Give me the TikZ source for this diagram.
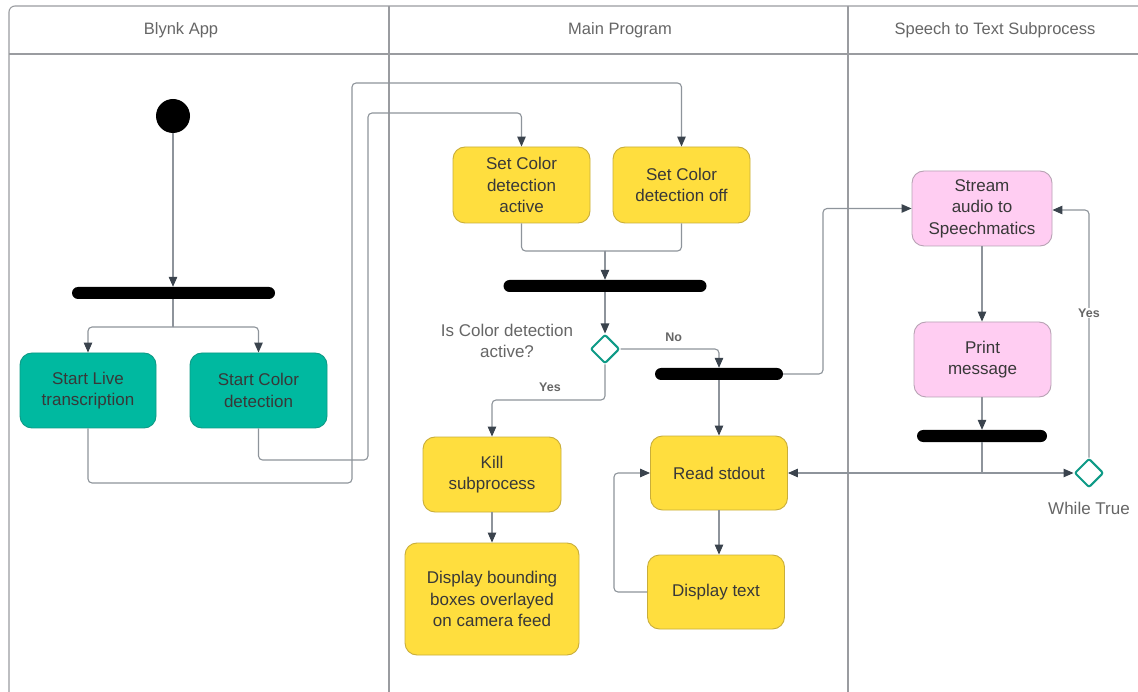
\documentclass[tikz,border=0pt]{standalone}
\usepackage{fontspec}
\setmainfont{Liberation Sans}
\usetikzlibrary{arrows.meta,shapes.geometric}

\definecolor{lanec}{HTML}{9A9CA0}
\definecolor{linec}{HTML}{8E949B}
\definecolor{tipc}{HTML}{3A434D}
\definecolor{tealf}{HTML}{00B9A0}
\definecolor{teald}{HTML}{0E9A86}
\definecolor{yelf}{HTML}{FFDE3E}
\definecolor{yeld}{HTML}{C9AE3A}
\definecolor{pinkf}{HTML}{FFCDF2}
\definecolor{pinkd}{HTML}{B8A2B4}
\definecolor{txt}{HTML}{383838}
\definecolor{labc}{HTML}{666666}

\tikzset{
  lane/.style={draw=lanec, line width=1.1pt},
  lanetitle/.style={font=\fontsize{16.5}{19}\selectfont, text=labc},
  actbox/.style={rounded corners=12pt, line width=0.9pt, align=center, inner sep=0pt,
    font=\fontsize{17}{21.5}\selectfont, text=txt},
  tealbox/.style={actbox, fill=tealf, draw=teald},
  yelbox/.style={actbox, fill=yelf, draw=yeld},
  pinkbox/.style={actbox, fill=pinkf, draw=pinkd},
  syncbar/.style={fill=black, rounded corners=6pt, minimum height=12pt, inner sep=0pt},
  choice/.style={diamond, draw=teald, line width=2pt, fill=white, minimum width=29pt,
    minimum height=29pt, inner sep=0pt, rounded corners=2pt},
  flow/.style={draw=linec, line width=1.1pt, rounded corners=4pt},
  flowarr/.style={flow, -{Triangle[length=10pt,width=8.5pt,color=tipc]}},
  guard/.style={font=\bfseries\fontsize{12.5}{15}\selectfont, text=labc},
  note/.style={font=\fontsize{17}{21.5}\selectfont, text=labc, align=center},
}

\begin{document}
\begin{tikzpicture}[x=1pt,y=-1pt]
\useasboundingbox (0,0) rectangle (1138,692);
\fill[white] (0,0) rectangle (1138,692);

% swimlanes
\draw[lane] (9,692) -- (9,12) [rounded corners=6pt] -- (9,6) -- (1140,6);
\draw[lane] (9,54) -- (1140,54);
\draw[lane] (389,6) -- (389,692);
\draw[lane] (848,6) -- (848,692);
\node[lanetitle] (t1) at (181,30) {Blynk App};
\node[lanetitle] (t2) at (620,30) {Main Program};
\node[lanetitle] (t3) at (995,30) {Speech to Text Subprocess};

% Blynk App lane
\fill (173,116) circle (17pt);
\coordinate (start) at (173,133);
\node[syncbar, minimum width=203pt] (bar1) at (173.5,293) {};
\node[tealbox, minimum width=136pt, minimum height=75pt] (live) at (88,390.5) {Start Live\\transcription};
\node[tealbox, minimum width=137pt, minimum height=75pt] (startcol) at (258.5,390.5) {Start Color\\detection};

% Main Program lane
\node[yelbox, minimum width=137pt, minimum height=76pt] (setact) at (521.5,185) {Set Color\\detection\\active};
\node[yelbox, minimum width=137pt, minimum height=76pt] (setoff) at (681.5,185) {Set Color\\detection off};
\node[syncbar, minimum width=203pt] (bar2) at (605,286) {};
\node[choice] (d1) at (605,349) {};
\node[note] (q1) at (507,341) {Is Color detection\\active?};
\node[syncbar, minimum width=128pt] (bar3) at (719,374) {};
\node[yelbox, minimum width=138pt, minimum height=75pt] (kill) at (492,474.5) {Kill\\subprocess};
\node[yelbox, minimum width=174pt, minimum height=112pt] (disp) at (492,599) {Display bounding\\boxes overlayed\\on camera feed};
\node[yelbox, minimum width=137pt, minimum height=74pt] (read) at (719,473) {Read stdout};
\node[yelbox, minimum width=137pt, minimum height=74pt] (dtext) at (716,592) {Display text};

% Speech to Text lane
\node[pinkbox, minimum width=140pt, minimum height=75pt] (stream) at (982,208.5) {Stream\\audio to\\Speechmatics};
\node[pinkbox, minimum width=137pt, minimum height=75pt] (print) at (982.5,359.5) {Print\\message};
\node[syncbar, minimum width=130pt] (bar4) at (982,436) {};
\node[choice] (d2) at (1089,473) {};
\node[note] (wt) at (1089,508) {While True};

% routing points
\coordinate (f1) at (173,327);
\coordinate (w1) at (352,483);
\coordinate (w2) at (352,83);
\coordinate (w3) at (368,460);
\coordinate (w4) at (368,113);
\coordinate (m2) at (605,251);
\coordinate (y1) at (605,400);
\coordinate (w5) at (823,374);
\coordinate (lp) at (614,592);
\coordinate (j4) at (982,473);
\coordinate (top2) at (1089,210);

% connectors
\draw[flowarr] (start) -- (start |- bar1.north);
\draw[flow] (start |- bar1.south) -- (f1);
\draw[flowarr] (f1) -| (live.north);
\draw[flowarr] (f1) -| (startcol.north);
\draw[flowarr] (live.south) |- (w1) -- (w2) -| (setoff.north);
\draw[flowarr] (startcol.south) |- (w3) -- (w4) -| (setact.north);
\draw[flow] (setact.south) |- (m2);
\draw[flow] (setoff.south) |- (m2);
\draw[flowarr] (m2) -- (bar2.north);
\draw[flowarr] (bar2.south) -- (d1.north);
\draw[flowarr] (d1.east) -| (bar3.north) node[pos=0.27, above=3pt, guard] {No};
\draw[flowarr] (d1.south) -- (y1) -| (kill.north);
\node[guard] (yes1) at (550,387) {Yes};
\draw[flowarr] (kill.south) -- (disp.north);
\draw[flowarr] (bar3.south) -- (read.north);
\draw[flowarr] (bar3.east) -- (w5) |- (stream.west);
\draw[flowarr] (read.south) -- (read.south |- dtext.north);
\draw[flowarr] (dtext.west |- lp) -- (lp) |- (read.west);
\draw[flowarr] (stream.south) -- (stream.south |- print.north);
\draw[flowarr] (print.south -| bar4) -- (bar4.north);
\draw[flow] (bar4.south) -- (j4);
\draw[flowarr] (j4) -- (read.east);
\draw[flowarr] (j4) -- (d2.west);
\draw[flowarr] (d2.north) -- (top2) -- (stream.east |- top2);
\node[guard, fill=white, inner sep=1pt] (yes2) at (1089,313) {Yes};
\end{tikzpicture}
\end{document}
